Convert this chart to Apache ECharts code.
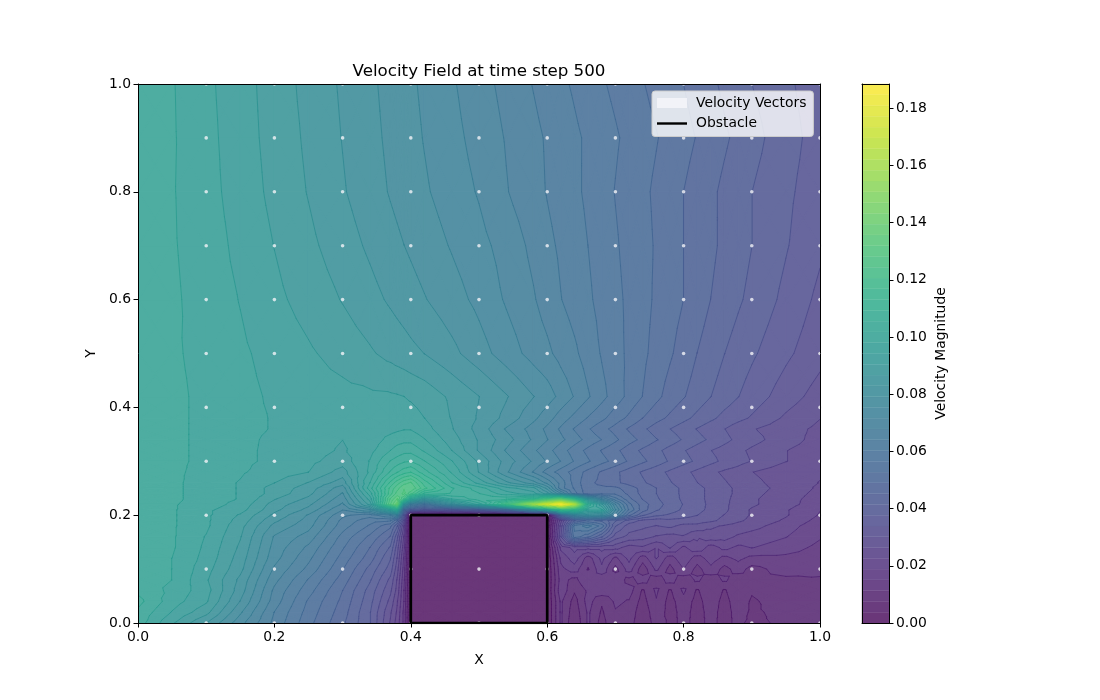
<!DOCTYPE html>
<html><head><meta charset="utf-8">
<style>html,body{margin:0;padding:0;background:#fff}#c{width:1100px;height:700px}</style>
<script src="https://cdn.jsdelivr.net/npm/echarts@6/dist/echarts.min.js"></script>
</head><body><div id="c"></div>
<script>
const xs=[0,.05,.1,.15,.2,.25,.3,.34,.37,.38,.39,.4,.42,.46,.5,.54,.58,.6,.62,.64,.66,.68,.7,.72,.74,.76,.78,.8,.82,.84,.86,.88,.9,.95,1];
const ys=[1,.9,.8,.7,.6,.5,.42,.38,.36,.34,.32,.3,.28,.26,.25,.24,.23,.22,.21,.2,.19,.18,.16,.14,.12,.1,.08,.06,.04,.02,0];
// velocity magnitude x 1000, one list per y value
const r100=[101.5,98.3,95.1,92,88.8,85.5,82.4,79.9,78,77.3,76.7,76,74.7,72.1,69.4,66.7,63.9,62.5,61.1,59.8,58.4,57,55.7,54.3,53,51.6,50.3,49,47.5,46,44.5,43,41.5,38.5,35.5];
const r90=[101.5,98.4,95.4,92.2,89.1,86,82.8,80.3,78.4,77.8,77.2,76.5,75.2,72.8,70.3,67.6,65,63.7,62.4,61,59.7,58.3,57,55.6,54.3,53,51.6,50.2,48.8,47.3,45.8,44.3,42.8,39.3,36];
const r80=[101.5,98.3,95.6,92.6,89.5,86.5,83.3,80.8,78.9,78.3,77.7,77.1,75.9,73.6,71.3,68.1,65.3,63.9,62.5,61.1,59.6,58,56.4,54.9,53.6,52.1,50.6,49,47.5,46,44.4,42.9,41.5,38.5,35.5];
const r70=[101.5,98.4,96,93.3,90.4,87.6,84.7,82.3,80.4,79.8,79.2,78.6,77.4,75.1,72.8,70.2,66.9,65,63.5,62,60.3,58.7,57,55.3,54,52.4,50.7,49,47.5,46,44.4,43,41.5,38,34.6];
const r60=[101.6,98.7,96.3,94.1,91.4,89,86.5,84.2,82.4,81.8,81.2,80.6,79.4,77,74.4,71.2,68.2,66.2,64.2,62.6,60.9,59.2,57.5,55.8,54,52.2,50.6,49,47.1,45.2,43.6,42,40.5,36.7,33];
const r50=[101.7,98.6,96.8,94.9,92.9,91,89,87.2,85.6,85,84.5,83.9,82.9,80.2,77,73.6,70.2,68.7,66.6,64.8,62.4,60,57.9,55.8,53.6,51.5,49.5,47.4,45.2,43.4,41.5,39.9,38.3,34.7,31.4];
const r42=[101.8,99,97,95.3,93.7,92.5,91.7,91.2,91,90.8,90.5,90,89,86,83,79.5,75.5,73.5,70.5,67.6,64.5,61.5,58.5,55.5,52.7,50,47.5,45.5,43.5,41.5,39.6,37.8,36,32,28.5];
const r38=[101.7,99,97,95.3,94,93,92.2,92,92,92,92,92,90.5,86.5,82.5,78,72.5,69.5,66,63,60,57.5,54.5,52,49,46.5,44.5,42.5,40.5,38.5,36.5,35,33.5,29.5,26.5];
const r36=[101.7,99,97,95.3,94,92.5,91.5,92,93,93.5,94,94,92,87,81.5,75,70,67,63.5,60,57,54,51.5,48.5,46,43.5,41.5,39.5,37.5,35.5,34,32,30.5,28,25.5];
const r34=[101.6,99,97,95.2,93.5,92,90.5,92,95.5,96.5,97,97,94.5,88.5,82.5,77,71,68,65,62,59,56.5,53.5,50.5,48,45.5,43.5,41,39,37,35,33,31.5,28,25];
const r32=[101.6,99,97,95,93.5,92,90,93,98,99.5,100.5,100.5,97.5,90.5,82.5,75,68.5,65.5,62,58.5,55.5,52.5,50,47,44.5,42.5,40,38,36,34,32.5,31,29.5,26.5,24.5];
const r30=[101.5,99,97,95,93.5,91.5,88.5,94.5,102,103.5,105,105.5,102,94.5,86,77.5,71,67.5,64,60,57,54,51.5,48.5,46,43.5,41,39,37,35,33,31.5,30,26.5,24];
const r28=[101.5,99,96.5,94.7,92.5,90.5,85,95,106,109,111.5,113,107,97.5,86.5,76,67.5,62.5,58.5,55,51.5,48.5,46,43.5,41,39,37,35,33,31,29.5,28.5,26.5,24,23];
const r26=[101.4,99,96,94,90.5,86.5,81,98,114,119,123,125,115,102,93,84,77,70.5,62.5,55,50,48,46,44,42,40,38,36,34,32,30.5,29,27.5,24.5,22.5];
const r25=[101.4,99,96,94,89,85,77,100,118,123,128,128,118,106,100,92,88,78,62,56,50,50,50,47,44,41.5,39,37,35,33,31,29.5,28,25,22];
const r24=[101.4,99,96,94,89,84,75,96,119,126,129,122,108,105,102,96,92,85,72,58,50,52,52,48,44,41.5,39,37,35,33,31,29.5,27.5,24.5,21.5];
const r23=[101.4,99,96,94,87,82,73,92,125,132,120,100,85,98,104,105,112,125,135,115,85,68,58,50,45,42,39.5,37,35,33,31,29,27,24,21];
const r22=[101.3,98.5,96,93,85,80,71,88,128,138,85,68,60,80,96,122,160,175,187,165,105,88,68,54,47,43,40,37.5,35.5,33,31,28.5,27,24,20.5];
const r21=[101.3,98.5,95,92,84,78,68,75,95,105,55,45,40,42,47,58,85,100,120,115,95,95,72,56,47,42,39.5,37,35,33,31,28,26,23,19];
const r20=[101.3,98.5,95,90,82,75,65,62,68,72,40,0,0,0,0,0,0,0,55,75,80,78,66,50,42,38.5,37,35.5,34,32,30,28,26,23,18.5];
const r19=[101,98.5,95,89,80,74,63,58,57,50,32,0,0,0,0,0,0,0,25,45,50,48,42,36,33,32,33,32.5,32,31,29,27,25.5,22,17.5];
const r18=[100.5,98.5,95,88,78,73,62,56,50,42,26,0,0,0,0,0,0,0,28,58,62,55,38,32,31,30,31,29,29,27,26,25,24,20.5,16.5];
const r16=[100.5,98.5,94,87,75,70,59,52,45,35,22,0,0,0,0,0,0,0,30,55,50,42,32,29,28,26,25,26,23,25,24,22,21,19,15.5];
const r14=[100,98.5,93.5,86,74,67,57,49,41,32,20,0,0,0,0,0,0,0,20,24,24,24,24,21,22,19,23,18,22,17,20,18,19,17,14];
const r12=[100,98,93,85,73,65,55,47,38,30,18,0,0,0,0,0,0,0,16,21,13,20,14,20,13,19,13,18,13,17,14,16,14,14,13];
const r10=[99.5,98,92,84,71,63,53,44,36,28,17,0,0,0,0,0,0,0,14,17,11,18,10,17,9,16,10,15,10,14,10,13,10,13,12];
const r08=[99.5,98,91,82,69,60,51,42,33,26,16,0,0,0,0,0,0,0,13,10,15,12,14,10,13,9,13,9,12,9,12,9,11,10.5,11];
const r06=[101,97,92,81,67,58,49,40,31,25,15,0,0,0,0,0,0,0,14,8,12,14,12,13,7,12,7,12,7,11,7,11,8,10,10];
const r04=[103,96,91,79,66,56,48,39,29,23,15,0,0,0,0,0,0,0,12,6,13,8,12,11,6,11,6,10,6,10,6,10,7,9.5,9];
const r02=[101,94,88,76,64,55,47,38,27,22,14,0,0,0,0,0,0,0,12,5,12,7,11,10,5,10,6,9,6,9,6,9,7,8.5,8];
const r00=[100,91,83,73,63,54,46,38,26,21,14,0,0,0,0,0,0,0,12,4,12,6,11,9,5,9,7,8,7,8,7,8,7,8,8];
const rows=[r100,r90,r80,r70,r60,r50,r42,r38,r36,r34,r32,r30,r28,r26,r25,r24,r23,r22,r21,r20,r19,r18,r16,r14,r12,r10,r08,r06,r04,r02,r00];
const vectorX=[.1,.2,.3,.4,.5,.6,.7,.8,.9,1];
const vectorY=[0,.1,.2,.3,.4,.5,.6,.7,.8,.9,1];
const obstacleX=[.4,.4,.6,.6,.4];
const obstacleY=[0,.2,.2,0,0];
const barTicks=[0,.02,.04,.06,.08,.1,.12,.14,.16,.18];
const vMax=188.5, nLevels=50, step=vMax/nLevels;

const stops=[[68,1,84],[72,36,117],[65,68,135],[53,95,141],[42,120,142],[33,145,140],[34,168,132],[68,191,112],[122,209,81],[189,223,38],[253,231,37]];
function vir(t){t=Math.max(0,Math.min(1,t))*10;const i=Math.min(9,Math.floor(t)),f=t-i;return stops[i].map((c,n)=>c+(stops[i+1][n]-c)*f);}
function bandRGB(k){return vir((k+.5)/nLevels).map(v=>v*.8+51);}
function bandColor(k){return `rgb(${bandRGB(k).map(Math.round)})`;}
function lineColor(k){const b=bandRGB(k),c=vir(k/nLevels);return `rgb(${c.map((v,i)=>Math.round(v*.8+b[i]*.2))})`;}

function clip(poly,lev,above){const out=[];for(let i=0;i<poly.length;i++){const a=poly[i],b=poly[(i+1)%poly.length];const ia=above?a[2]>=lev:a[2]<=lev,ib=above?b[2]>=lev:b[2]<=lev;if(ia)out.push(a);if(ia!==ib){const t=(lev-a[2])/(b[2]-a[2]);out.push([a[0]+(b[0]-a[0])*t,a[1]+(b[1]-a[1])*t,lev]);}}return out;}
function tris(i,j){const p=(n,m)=>[xs[n],ys[m],rows[m][n]];const a=p(i,j),b=p(i+1,j),c=p(i+1,j+1),d=p(i,j+1);const m=[(a[0]+b[0])/2,(a[1]+d[1])/2,(a[2]+b[2]+c[2]+d[2])/4];return [[a,b,m],[b,c,m],[c,d,m],[d,a,m]];}
const cells=[];for(let j=0;j<ys.length-1;j++)for(let i=0;i<xs.length-1;i++)cells.push([xs[i],ys[j],i,j]);

function renderFill(params,api){const children=[];for(const t of tris(api.value(2),api.value(3))){const zs=t.map(p=>p[2]);const lo=Math.floor(Math.min(...zs)/step),hi=Math.min(nLevels-1,Math.floor(Math.max(...zs)/step));
 for(let k=lo;k<=hi;k++){let poly=clip(t,k*step,true);if(poly.length>2)poly=clip(poly,(k+1)*step,false);if(poly.length<3)continue;const col=bandColor(k);children.push({type:'polygon',shape:{points:poly.map(p=>api.coord([p[0],p[1]]))},style:{fill:col,stroke:col,lineWidth:1.2}});}}
 return {type:'group',children};}
function renderLine(params,api){const children=[];for(const t of tris(api.value(2),api.value(3))){const zs=t.map(p=>p[2]);const lo=Math.ceil(Math.min(...zs)/step),hi=Math.floor(Math.max(...zs)/step);
 for(let k=Math.max(lo,1);k<=hi;k++){const lev=k*step,pts=[];for(let n=0;n<3;n++){const a=t[n],b=t[(n+1)%3];if((a[2]<lev)!==(b[2]<lev)){const f=(lev-a[2])/(b[2]-a[2]);pts.push(api.coord([a[0]+(b[0]-a[0])*f,a[1]+(b[1]-a[1])*f]));}}
 if(pts.length===2)children.push({type:'line',shape:{x1:pts[0][0],y1:pts[0][1],x2:pts[1][0],y2:pts[1][1]},style:{stroke:lineColor(k),lineWidth:.8,lineCap:'round'}});}}
 return {type:'group',children};}

const vectorData=[];vectorX.forEach(x=>vectorY.forEach(y=>vectorData.push([x,y])));
const barData=[];for(let k=0;k<nLevels;k++)barData.push([k]);
const font='DejaVu Sans',fs=13.9;
const line={show:true,onZero:false,lineStyle:{color:'#000',width:1}};
const tick={show:true,length:4.5,lineStyle:{color:'#000',width:1}};
const lab={fontFamily:font,fontSize:fs,color:'#000',margin:7};
const frameX=(g,pos)=>({type:'value',gridIndex:g,position:pos,min:0,max:1,z:10,axisLine:line,axisTick:{show:false},axisLabel:{show:false},splitLine:{show:false}});
const frameY=(g,pos,max)=>({type:'value',gridIndex:g,position:pos,min:0,max,z:10,axisLine:line,axisTick:{show:false},axisLabel:{show:false},splitLine:{show:false}});
const nameStyle={fontFamily:font,fontSize:fs,color:'#000'};
const option={animation:false,backgroundColor:'#fff',textStyle:{fontFamily:font,color:'#000'},
 title:{text:'Velocity Field at time step 500',left:474,top:58,textAlign:'center',textStyle:{fontFamily:font,fontSize:16.7,fontWeight:'normal',color:'#000'}},
 grid:[{left:138,top:84,width:682,height:539},{left:862,top:84,width:27,height:539}],
 legend:{left:652,top:91,orient:'vertical',itemWidth:30,itemHeight:10,itemGap:6.5,padding:[5,7,6,5],backgroundColor:'rgba(255,255,255,0.8)',borderColor:'#ccc',borderWidth:1,borderRadius:3,z:20,textStyle:{fontFamily:font,fontSize:fs,color:'#000',padding:[0,0,0,4]},
  data:[{name:'Velocity Vectors',icon:'rect',itemStyle:{color:'#f6f6fb'}},{name:'Obstacle',icon:'path://M0 0H30V2.4H0Z',itemStyle:{color:'#000'}}]},
 xAxis:[{type:'value',gridIndex:0,position:'bottom',min:0,max:1,interval:.2,z:10,name:'X',nameLocation:'middle',nameGap:30,nameTextStyle:nameStyle,axisLine:line,axisTick:tick,axisLabel:Object.assign({},lab,{formatter:v=>v.toFixed(1)}),splitLine:{show:false}},
  frameX(0,'top'),frameX(1,'bottom'),frameX(1,'top')],
 yAxis:[{type:'value',gridIndex:0,position:'left',min:0,max:1,interval:.2,z:10,name:'Y',nameLocation:'middle',nameGap:40,nameRotate:90,nameTextStyle:nameStyle,axisLine:line,axisTick:tick,axisLabel:Object.assign({},lab,{padding:[3,0,0,0],formatter:v=>v.toFixed(1)}),splitLine:{show:false}},
  frameY(0,'right',1),
  {type:'value',gridIndex:1,position:'right',min:0,max:vMax/1000,z:10,name:'Velocity Magnitude',nameLocation:'middle',nameGap:45,nameRotate:90,nameTextStyle:nameStyle,axisLine:line,axisTick:Object.assign({},tick,{customValues:barTicks}),axisLabel:Object.assign({},lab,{padding:[3,0,0,0],customValues:barTicks,formatter:v=>v.toFixed(2)}),splitLine:{show:false}},
  frameY(1,'left',vMax/1000)],
 series:[
  {type:'custom',name:'field',xAxisIndex:0,yAxisIndex:0,z:1,silent:true,clip:true,progressive:0,data:cells,encode:{x:0,y:1},renderItem:renderFill},
  {type:'custom',name:'contours',xAxisIndex:0,yAxisIndex:0,z:2,silent:true,clip:true,progressive:0,data:cells,encode:{x:0,y:1},renderItem:renderLine},
  {type:'scatter',name:'Velocity Vectors',xAxisIndex:0,yAxisIndex:0,z:3,silent:true,clip:true,symbolSize:3.6,itemStyle:{color:'#f4f4f8'},data:vectorData},
  {type:'line',name:'Obstacle',xAxisIndex:0,yAxisIndex:0,z:4,silent:true,clip:true,symbol:'none',lineStyle:{color:'#000',width:2.7},itemStyle:{color:'#000'},data:obstacleX.map((x,i)=>[x,obstacleY[i]])},
  {type:'custom',name:'colorbar',xAxisIndex:2,yAxisIndex:2,z:1,silent:true,progressive:0,data:barData,encode:{y:0},renderItem:(p,api)=>{const k=api.value(0);const a=api.coord([0,k*step/1000]),b=api.coord([1,(k+1)*step/1000]);const c=bandColor(k);return {type:'rect',shape:{x:a[0],y:b[1],width:b[0]-a[0],height:a[1]-b[1]},style:{fill:c,stroke:c,lineWidth:.4}};}}
 ]};
const chart=echarts.init(document.getElementById('c'),null,{renderer:'canvas'});
chart.setOption(option);
</script></body></html>
